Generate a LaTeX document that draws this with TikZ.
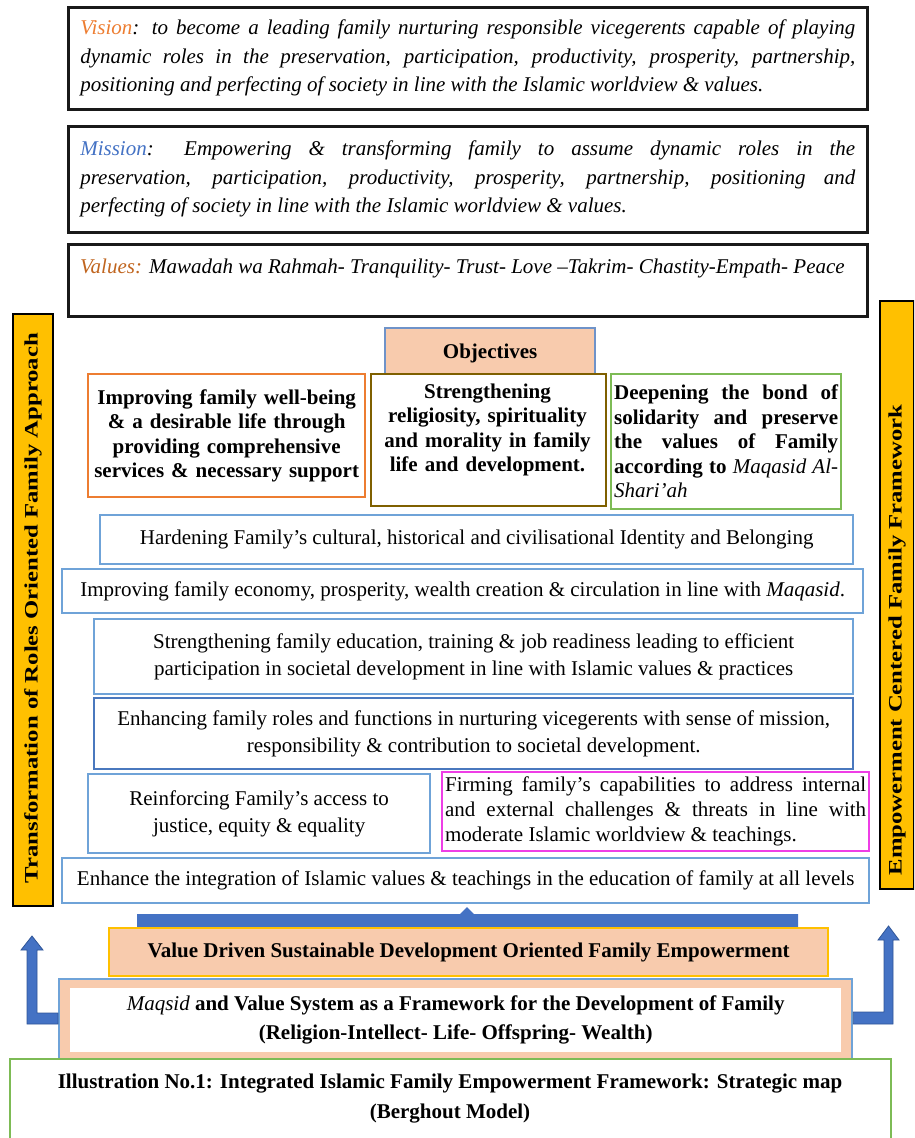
\documentclass[tikz,border=0pt]{standalone}
\usepackage{fontspec}
\setmainfont{Liberation Serif}
\newfontfamily\barfont{Liberation Serif}[FakeStretch=1.3]
\definecolor{visc}{HTML}{ED7D31}
\definecolor{misc}{HTML}{4472C4}
\definecolor{valc}{HTML}{C0651F}
\definecolor{lblue}{HTML}{6FA3D8}
\definecolor{dblue}{HTML}{4A78BE}
\definecolor{peach}{HTML}{F8CBAD}
\definecolor{gold}{HTML}{FFC000}
\definecolor{orng}{HTML}{ED7D31}
\definecolor{olive}{HTML}{7F6000}
\definecolor{grn}{HTML}{7DBB55}
\definecolor{magn}{HTML}{EE3EE6}
\definecolor{objb}{HTML}{6F93C9}
\definecolor{arrf}{HTML}{4472C4}
\definecolor{arrd}{HTML}{2F5597}
\begin{document}
\begin{tikzpicture}[x=1pt,y=-1pt,
  box/.style={draw, line width=2.3pt, inner ysep=0pt, anchor=north west,
    font=\fontsize{21}{27}\selectfont},
  blackbox/.style={box, draw=black!90, line width=2.6pt,
    font=\fontsize{21}{28.5}\selectfont\itshape},
  bluebox/.style={box, draw=lblue},
  objbox/.style={box, font=\fontsize{21}{24.5}\selectfont\bfseries},
  sidebar/.style={draw=black, fill=gold, line width=2pt, anchor=north west, inner sep=0pt},
  bartext/.style={rotate=90, font=\barfont\fontsize{19}{22}\selectfont\bfseries},
  blockarrow/.style={fill=arrf, draw=arrd, line width=0.8pt},
  plain/.style={inner sep=0pt}
]
\useasboundingbox (0,0) rectangle (914,1138);
\clip (0,0) rectangle (914,1138);

% top statements
\node[blackbox, minimum width=799, minimum height=102, text width=775, inner xsep=12, align=justify] (vision) at (67,6)
 {\textcolor{visc}{Vision}: to become a leading family nurturing responsible vicegerents capable of playing\linebreak
  dynamic roles in the preservation, participation, productivity, prosperity, partnership,\linebreak
  positioning and perfecting of society in line with the Islamic worldview \& values.};
\node[blackbox, minimum width=799, minimum height=106, text width=775, inner xsep=12, align=justify] (mission) at (67,125)
 {\textcolor{misc}{Mission}: Empowering \& transforming family to assume dynamic roles in the\linebreak
  preservation, participation, productivity, prosperity, partnership, positioning and\linebreak
  perfecting of society in line with the Islamic worldview \& values.};
\node[blackbox, minimum width=799, minimum height=72] (values) at (67,243) {};
\node[plain, anchor=west, font=\fontsize{21}{25}\selectfont\itshape] (valtext) at (80,268)
 {\textcolor{valc}{Values:} Mawadah wa Rahmah- Tranquility- Trust- Love –Takrim- Chastity-Empath- Peace};

% side bars
\node[sidebar, minimum width=40, minimum height=592] (lbar) at (12,313) {};
\node[bartext] (ltext) at (33,608) {Transformation of Roles Oriented Family Approach};
\node[sidebar, minimum width=34, minimum height=588] (rbar) at (879,300) {};
\node[bartext] (rtext) at (897,640) {Empowerment Centered Family Framework};

% objectives
\node[box, draw=objb, fill=peach, minimum width=210, minimum height=50, font=\fontsize{21}{25}\selectfont\bfseries] (obj) at (384,327) {Objectives};
\node[objbox, draw=orng, minimum width=277, minimum height=123, text width=269, inner xsep=4, align=center] (obja) at (87,373)
 {Improving family well-being\\ \& a desirable life through\\ providing comprehensive\\ services \& necessary support};
\node[objbox, draw=olive, fill=white, minimum width=235, minimum height=132] (objb) at (370,373) {};
\node[plain, text width=227, align=center, font=\fontsize{21}{24.5}\selectfont\bfseries] (objbtext) at (487.5,430)
 {Strengthening\\ religiosity, spirituality\\ and morality in family\\ life and development.};
\node[objbox, draw=grn, minimum width=230, minimum height=135, text width=224, inner xsep=3, align=justify] (objc) at (610,373)
 {Deepening the bond of\linebreak solidarity and preserve\linebreak the values of Family\linebreak according to {\mdseries\itshape Maqasid Al-}\linebreak {\mdseries\itshape Shari’ah}};

% blue boxes
\node[bluebox, minimum width=753, minimum height=49, align=center] (hard) at (99,514)
 {Hardening Family’s cultural, historical and civilisational Identity and Belonging};
\node[bluebox, minimum width=801, minimum height=44, align=center] (econ) at (61,568)
 {Improving family economy, prosperity, wealth creation \& circulation in line with \textit{Maqasid}.};
\node[bluebox, minimum width=759, minimum height=75, align=center] (edu) at (93,618)
 {Strengthening family education, training \& job readiness leading to efficient\\ participation in societal development in line with Islamic values \& practices};
\node[bluebox, draw=dblue, minimum width=759, minimum height=71, align=center] (roles) at (93,697)
 {Enhancing family roles and functions in nurturing vicegerents with sense of mission,\\ responsibility \& contribution to societal development.};
\node[bluebox, minimum width=342, minimum height=79, align=center] (reinf) at (87,773)
 {Reinforcing Family’s access to\\ justice, equity \& equality};
\node[box, draw=magn, minimum width=427, minimum height=79, text width=421, inner xsep=3, align=justify, font=\fontsize{21}{25}\selectfont] (firm) at (441,771)
 {Firming family’s capabilities to address internal\linebreak and external challenges \& threats in line with\linebreak moderate Islamic worldview \& teachings.};
\node[bluebox, minimum width=807, minimum height=45, align=center] (integ) at (61,857)
 {Enhance the integration of Islamic values \& teachings in the education of family at all levels};

% upward bar arrow
\coordinate (tip) at (467,907);
\fill[arrf] (137,914) -- (460,914) -- (tip) -- (474,914) -- (798,914) -- (798,928) -- (137,928) -- cycle;

% foundation
\node[box, draw=gold, fill=peach, minimum width=719, minimum height=48, align=center, font=\fontsize{21}{25}\selectfont\bfseries] (value) at (108,927)
 {Value Driven Sustainable Development Oriented Family Empowerment};
\node[box, draw=lblue, fill=peach, minimum width=793, minimum height=80] (maqo) at (58,978) {};
\node[box, draw=none, fill=white, minimum width=771, minimum height=64, align=center, font=\fontsize{21}{29}\selectfont\bfseries] (maqi) at (69,987)
 {{\mdseries\itshape Maqsid} and Value System as a Framework for the Development of Family\\ (Religion-Intellect- Life- Offspring- Wealth)};
\node[box, draw=grn, minimum width=881, minimum height=110] (illus) at (9,1058) {};
\node[plain, align=center, font=\fontsize{21}{30}\selectfont\bfseries] (illtext) at (450,1099)
 {Illustration No.1: Integrated Islamic Family Empowerment Framework: Strategic map\\ (Berghout Model)};

% L-shaped block arrows
\draw[blockarrow] (maqo.west |- 0,1013) -- (37,1013) -- (37,950) -- (43,950) -- (32,936) -- (21,950) -- (27,950) -- (27,1024) -- (maqo.west |- 0,1024) -- cycle;
\draw[blockarrow] (maqo.east |- 0,1012) -- (884,1012) -- (884,940) -- (878,940) -- (888.5,926) -- (899,940) -- (893,940) -- (893,1024) -- (maqo.east |- 0,1024) -- cycle;
\end{tikzpicture}
\end{document}
